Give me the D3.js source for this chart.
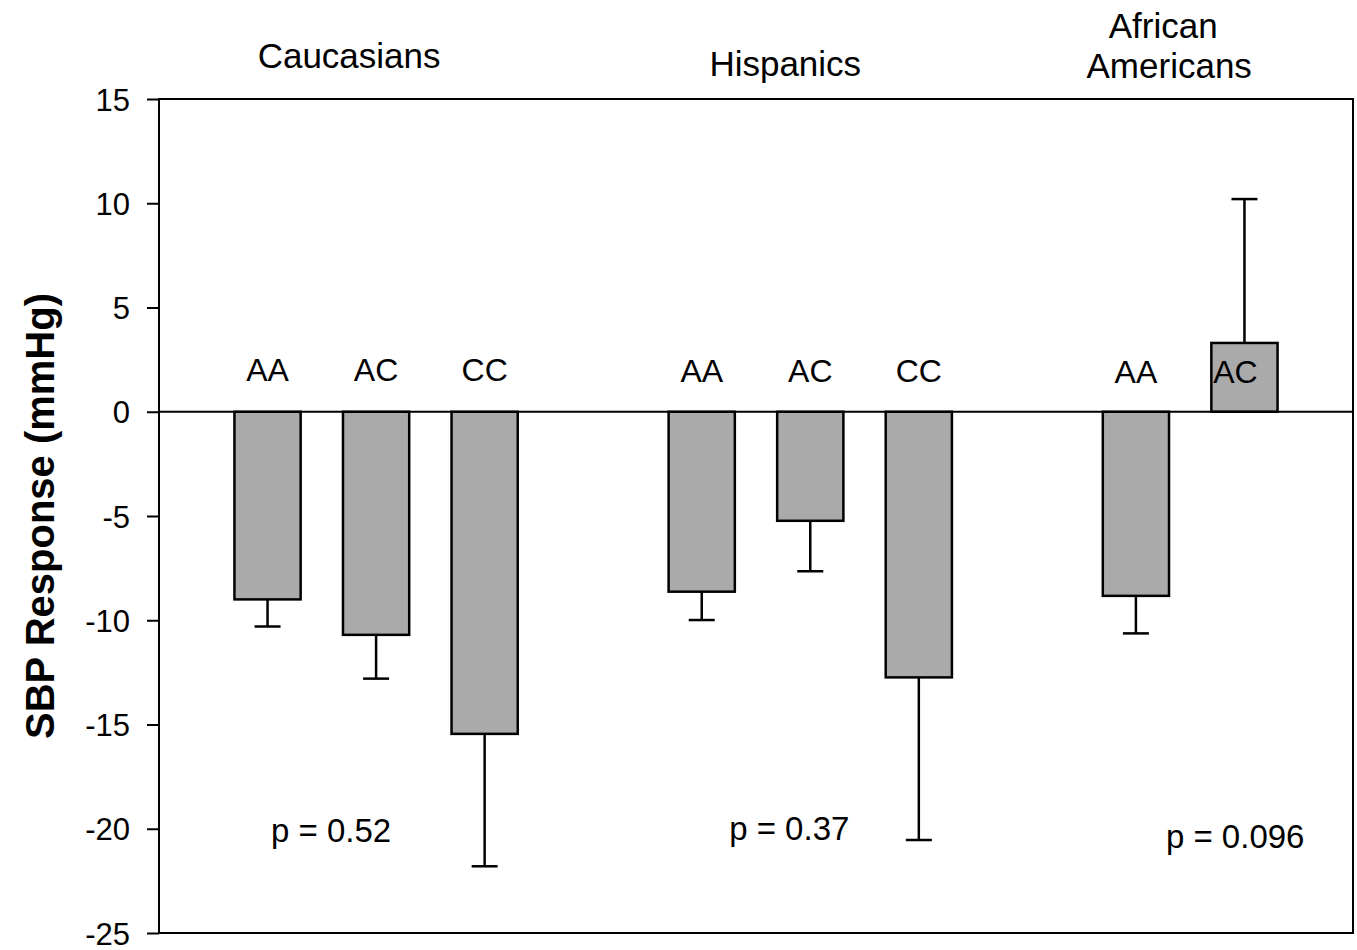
<!DOCTYPE html>
<html>
<head>
<meta charset="utf-8">
<script src="https://cdn.jsdelivr.net/npm/d3@7"></script>
<style>
  body { margin: 0; background: #fff; }
  svg { display: block; font-family: Arial, "Liberation Sans", sans-serif; }
</style>
</head>
<body>
<div id="plot"></div>
<script>
// Sample data
const groups = ["Caucasians", "Hispanics", "African Americans"];
const genotypes = [["AA", "AC", "CC"], ["AA", "AC", "CC"], ["AA", "AC"]];
const means = [[-9.0, -10.7, -15.45], [-8.63, -5.23, -12.74], [-8.83, 3.3]];
const errors = [[1.3, 2.1, 6.35], [1.36, 2.42, 7.8], [1.8, 6.9]];
const pValues = ["p = 0.52", "p = 0.37", "p = 0.096"];
const yTicks = [15, 10, 5, 0, -5, -10, -15, -20, -25];

// flatten into bar records, with an empty slot before each group and one at the end
const bars = [];
const slots = [];
groups.forEach((g, gi) => {
  slots.push("gap" + gi);
  genotypes[gi].forEach((gt, i) => {
    const key = g + "-" + gt;
    slots.push(key);
    bars.push({ key, group: g, gi, genotype: gt, value: means[gi][i], err: errors[gi][i] });
  });
});
slots.push("gapEnd");

const width = 1357, height = 950;
const plotLeft = 159, plotRight = 1353, plotTop = 99, plotBottom = 933;

const svg = d3.select("#plot")
  .append("svg")
  .attr("width", width)
  .attr("height", height);

const x = d3.scalePoint()
  .domain(slots)
  .range([plotLeft, plotRight]);

const y = d3.scaleLinear()
  .domain([-25, 15])
  .range([plotBottom, plotTop]);

const barW = x.step() * 0.61;

// y axis with outward ticks
const yAxis = svg.append("g")
  .attr("transform", `translate(${plotLeft},0)`)
  .call(d3.axisLeft(y)
    .tickValues(yTicks)
    .tickFormat(d => String(d))
    .tickSize(12)
    .tickPadding(17)
    .tickSizeOuter(0));
yAxis.select(".domain").remove();
yAxis.selectAll("line").attr("stroke", "#000").attr("stroke-width", 2);
yAxis.selectAll("text")
  .style("font-size", "31px")
  .style("fill", "#000")
  .attr("dy", "0.36em");

// frame
svg.append("rect")
  .attr("x", plotLeft)
  .attr("y", plotTop)
  .attr("width", plotRight - plotLeft)
  .attr("height", plotBottom - plotTop)
  .attr("fill", "none")
  .attr("stroke", "#000")
  .attr("stroke-width", 2);

// error bars (drawn in the direction of the bar)
const eb = svg.selectAll(".err")
  .data(bars)
  .enter()
  .append("g")
  .attr("class", "err")
  .attr("stroke", "#000")
  .attr("stroke-width", 2.5);
const tip = d => d.value < 0 ? d.value - d.err : d.value + d.err;
eb.append("line")
  .attr("x1", d => x(d.key))
  .attr("x2", d => x(d.key))
  .attr("y1", d => y(d.value))
  .attr("y2", d => y(tip(d)));
eb.append("line")
  .attr("x1", d => x(d.key) - 13)
  .attr("x2", d => x(d.key) + 13)
  .attr("y1", d => y(tip(d)))
  .attr("y2", d => y(tip(d)));

// bars
svg.selectAll(".bar")
  .data(bars)
  .enter()
  .append("rect")
  .attr("class", "bar")
  .attr("x", d => x(d.key) - barW / 2)
  .attr("y", d => y(Math.max(0, d.value)))
  .attr("width", barW)
  .attr("height", d => Math.abs(y(d.value) - y(0)))
  .attr("fill", "#aaaaaa")
  .attr("stroke", "#000")
  .attr("stroke-width", 2.5);

// zero line
svg.append("line")
  .attr("x1", plotLeft)
  .attr("x2", plotRight)
  .attr("y1", y(0))
  .attr("y2", y(0))
  .attr("stroke", "#000")
  .attr("stroke-width", 2);

// genotype labels
svg.selectAll(".gt")
  .data(bars)
  .enter()
  .append("text")
  .attr("class", "gt")
  .attr("x", d => x(d.key) - (d.value > 0 ? 9 : 0))
  .attr("y", d => y(0) - 31 + d.gi * 1.2)
  .attr("text-anchor", "middle")
  .style("font-size", "32px")
  .text(d => d.genotype);

// group titles
const titleX = groups.map((g, gi) => d3.mean(bars.filter(b => b.gi === gi), b => x(b.key)));
const titleLines = [["Caucasians"], ["Hispanics"], ["African", "Americans"]];
const titleY = [68, 76, 38];
const titleShift = [[-27], [-25], [-27, -21]];
titleLines.forEach((lines, gi) => {
  const t = svg.append("text")
    .attr("text-anchor", "middle")
    .style("font-size", "35px");
  lines.forEach((s, li) => {
    t.append("tspan")
      .attr("x", titleX[gi] + titleShift[gi][li])
      .attr("y", titleY[gi] + li * 40)
      .text(s);
  });
});

// p values
const pY = [842, 840, 848];
const pShift = [-45, -21, 45];
pValues.forEach((p, gi) => {
  svg.append("text")
    .attr("x", titleX[gi] + pShift[gi])
    .attr("y", pY[gi])
    .attr("text-anchor", "middle")
    .style("font-size", "33px")
    .text(p);
});

// y axis label
svg.append("text")
  .attr("transform", `translate(54, ${y(-5)}) rotate(-90)`)
  .attr("text-anchor", "middle")
  .style("font-size", "40px")
  .style("font-weight", "bold")
  .text("SBP Response (mmHg)");
</script>
</body>
</html>
